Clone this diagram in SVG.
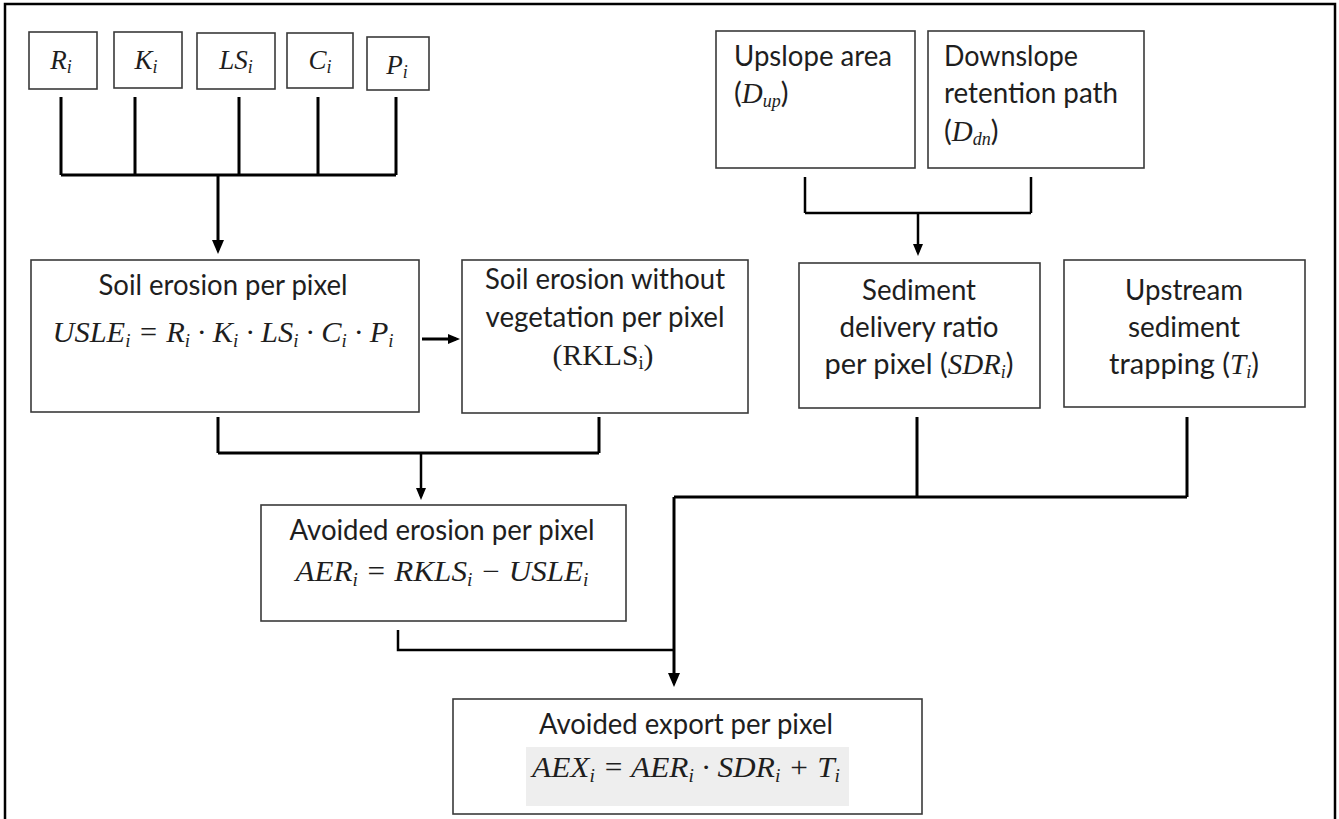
<svg xmlns="http://www.w3.org/2000/svg" width="1339" height="819" viewBox="0 0 1339 819">
<defs>
<style>
.box{fill:#fff;stroke:#3a3a3a;stroke-width:1.6}
.t{font-family:Lato,"Open Sans",sans-serif;font-size:29px;fill:#1e1e1e}
.m{font-family:"Liberation Serif",serif;font-style:italic;font-size:29px;fill:#1e1e1e}
.mu{font-family:"Liberation Serif",serif;font-size:29px;fill:#1e1e1e}
.ms{font-family:"Liberation Serif",serif;font-style:italic;font-size:27px;fill:#1e1e1e}
.sub{font-size:18px}
.c{stroke:#000;stroke-width:3;fill:none}
.c2{stroke:#000;stroke-width:2.5;fill:none}
</style>
<marker id="ah" viewBox="0 0 14 12" refX="10" refY="6" markerWidth="14" markerHeight="12" markerUnits="userSpaceOnUse" orient="auto"><path d="M0,0 L14,6 L0,12 z" fill="#000"/></marker>
<marker id="ah2" viewBox="0 0 12 10" refX="8" refY="5" markerWidth="12" markerHeight="10" markerUnits="userSpaceOnUse" orient="auto"><path d="M0,0 L12,5 L0,10 z" fill="#000"/></marker>
</defs>
<rect x="0" y="0" width="1339" height="819" fill="#fff"/>
<rect x="5" y="4" width="1330" height="830" fill="none" stroke="#000" stroke-width="2.5"/>

<g id="n-R"><rect class="box" x="29" y="32" width="68" height="57"/><text class="ms" x="61" y="69" text-anchor="middle">R<tspan class="sub" dy="4">i</tspan></text></g>
<g id="n-K"><rect class="box" x="114" y="32" width="68" height="56"/><text class="ms" x="146" y="69" text-anchor="middle">K<tspan class="sub" dy="4">i</tspan></text></g>
<g id="n-LS"><rect class="box" x="197" y="33" width="78" height="56"/><text class="ms" x="236" y="69" text-anchor="middle">LS<tspan class="sub" dy="4">i</tspan></text></g>
<g id="n-C"><rect class="box" x="287" y="33" width="66" height="55"/><text class="ms" x="320" y="69" text-anchor="middle">C<tspan class="sub" dy="4">i</tspan></text></g>
<g id="n-P"><rect class="box" x="367" y="37" width="62" height="53"/><text class="ms" x="397" y="74" text-anchor="middle">P<tspan class="sub" dy="4">i</tspan></text></g>

<g id="n-upslope"><rect class="box" x="716" y="31" width="199" height="137"/>
<text class="t" x="734" y="66" textLength="158" lengthAdjust="spacingAndGlyphs">Upslope area</text>
<text x="734" y="103"><tspan class="t">(</tspan><tspan class="m">D</tspan><tspan class="m sub" dy="4">up</tspan><tspan class="t" dy="-4">)</tspan></text></g>

<g id="n-downslope"><rect class="box" x="928" y="31" width="216" height="137"/>
<text class="t" x="944" y="66" textLength="134" lengthAdjust="spacingAndGlyphs">Downslope</text>
<text class="t" x="944" y="103" textLength="174" lengthAdjust="spacingAndGlyphs">retention path</text>
<text x="944" y="141"><tspan class="t">(</tspan><tspan class="m">D</tspan><tspan class="m sub" dy="4">dn</tspan><tspan class="t" dy="-4">)</tspan></text></g>

<g id="n-usle"><rect class="box" x="31" y="260" width="388" height="152"/>
<text class="t" x="223" y="295" text-anchor="middle" textLength="249" lengthAdjust="spacingAndGlyphs">Soil erosion per pixel</text>
<text class="m" x="223" y="342" text-anchor="middle" textLength="341" lengthAdjust="spacingAndGlyphs">USLE<tspan class="sub" dy="5">i</tspan><tspan dy="-5"> = R</tspan><tspan class="sub" dy="5">i</tspan><tspan dy="-5"> · K</tspan><tspan class="sub" dy="5">i</tspan><tspan dy="-5"> · LS</tspan><tspan class="sub" dy="5">i</tspan><tspan dy="-5"> · C</tspan><tspan class="sub" dy="5">i</tspan><tspan dy="-5"> · P</tspan><tspan class="sub" dy="5">i</tspan></text></g>

<g id="n-rkls"><rect class="box" x="462" y="260" width="286" height="153"/>
<text class="t" x="605" y="289" text-anchor="middle" textLength="240" lengthAdjust="spacingAndGlyphs">Soil erosion without</text>
<text class="t" x="605" y="327" text-anchor="middle" textLength="239" lengthAdjust="spacingAndGlyphs">vegetation per pixel</text>
<text class="mu" x="603" y="365" text-anchor="middle" textLength="101" lengthAdjust="spacingAndGlyphs">(RKLS<tspan class="sub" dy="4">i</tspan><tspan dy="-4">)</tspan></text></g>

<g id="n-sdr"><rect class="box" x="799" y="263" width="241" height="145"/>
<text class="t" x="919" y="300" text-anchor="middle" textLength="114" lengthAdjust="spacingAndGlyphs">Sediment</text>
<text class="t" x="919" y="337" text-anchor="middle" textLength="159" lengthAdjust="spacingAndGlyphs">delivery ratio</text>
<text x="919" y="374" text-anchor="middle"><tspan class="t">per pixel (</tspan><tspan class="m">SDR</tspan><tspan class="m sub" dy="4">i</tspan><tspan class="t" dy="-4">)</tspan></text></g>

<g id="n-trap"><rect class="box" x="1064" y="260" width="241" height="147"/>
<text class="t" x="1184" y="300" text-anchor="middle" textLength="118" lengthAdjust="spacingAndGlyphs">Upstream</text>
<text class="t" x="1184" y="337" text-anchor="middle" textLength="112" lengthAdjust="spacingAndGlyphs">sediment</text>
<text x="1184" y="374" text-anchor="middle"><tspan class="t">trapping (</tspan><tspan class="m">T</tspan><tspan class="m sub" dy="4">i</tspan><tspan class="t" dy="-4">)</tspan></text></g>

<g id="n-aer"><rect class="box" x="261" y="505" width="365" height="116"/>
<text class="t" x="442" y="540" text-anchor="middle" textLength="305" lengthAdjust="spacingAndGlyphs">Avoided erosion per pixel</text>
<text class="m" x="442" y="581" text-anchor="middle" textLength="293" lengthAdjust="spacingAndGlyphs">AER<tspan class="sub" dy="5">i</tspan><tspan dy="-5"> = RKLS</tspan><tspan class="sub" dy="5">i</tspan><tspan dy="-5"> − USLE</tspan><tspan class="sub" dy="5">i</tspan></text></g>

<g id="n-aex"><rect class="box" x="453" y="699" width="469" height="115"/>
<rect x="526" y="747" width="323" height="59" fill="#eeeeee"/>
<text class="t" x="686" y="734" text-anchor="middle" textLength="294" lengthAdjust="spacingAndGlyphs">Avoided export per pixel</text>
<text class="m" x="686" y="777" text-anchor="middle" textLength="308" lengthAdjust="spacingAndGlyphs">AEX<tspan class="sub" dy="5">i</tspan><tspan dy="-5"> = AER</tspan><tspan class="sub" dy="5">i</tspan><tspan dy="-5"> · SDR</tspan><tspan class="sub" dy="5">i</tspan><tspan dy="-5"> + T</tspan><tspan class="sub" dy="5">i</tspan></text></g>

<g id="connectors">
<path class="c" d="M61,97 V175 M135,97 V175 M239,97 V175 M318,97 V175 M396,97 V175 M61,175 H396"/>
<path class="c" d="M218,175 V250" marker-end="url(#ah)"/>
<path class="c" d="M422,339 H456" marker-end="url(#ah2)"/>
<path class="c2" d="M805,177 V213 M1031,177 V213 M805,213 H1031"/>
<path class="c2" d="M918,213 V252" marker-end="url(#ah2)"/>
<path class="c" d="M218,417 V453 M599,417 V453 M218,453 H599"/>
<path class="c2" d="M421,453 V496" marker-end="url(#ah2)"/>
<path class="c" d="M917,417 V497 M1187,417 V497 M674,497 H1187"/>
<path class="c" d="M674,497 V683" marker-end="url(#ah)"/>
<path class="c2" d="M398,630 V650 H674"/>
</g>
</svg>
